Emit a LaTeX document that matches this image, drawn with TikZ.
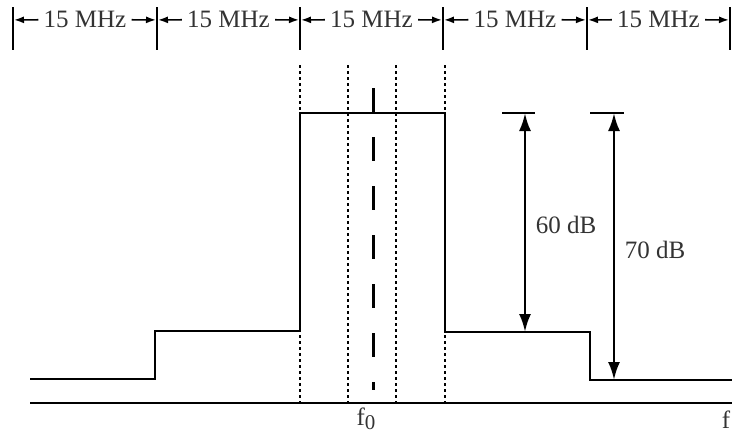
\documentclass[tikz,border=0pt]{standalone}
\usepackage{fontspec}
\setmainfont{Liberation Serif}
\usetikzlibrary{arrows.meta, positioning, calc}

\begin{document}
\begin{tikzpicture}[x=1pt, y=-1pt,
    lbl/.style={font=\fontsize{25}{30}\selectfont, text=black!80, inner sep=0pt},
    bar/.style={line width=2pt},
    tick/.style={-{Latex[length=10pt,width=7pt]}, line width=1.6pt, shorten <=5pt, shorten >=1pt},
    dim/.style={{Latex[length=18pt,width=12pt]}-{Latex[length=18pt,width=12pt]}, line width=2.6pt}]
    \useasboundingbox (0,0) rectangle (732,434);

    % Frequenzraster oben
    \foreach \x [count=\i from 0] in {13,157,300,443,587,730}
        \draw[bar] (\x,7) -- (\x,50) coordinate[pos=0.3] (t\i);
    \foreach \i [count=\j from 0] in {1,...,5} {
        \node[lbl, anchor=base] (m\i) at ($(t\j)!0.5!(t\i)+(0,8)$) {15 MHz};
        \draw[tick] (m\i.west) -- (t\j);
        \draw[tick] (m\i.east) -- (t\i);
    }

    % Achse
    \draw[line width=2pt] (30,403) -- (732,403);
    \node[lbl, anchor=base] (f0) at (366,425)
        {f\raisebox{-4pt}{\fontsize{21}{21}\selectfont 0}};
    \node[lbl, anchor=base] (f) at (726,428) {f};

    % Kanalraster
    \foreach \x in {300,348,396,445}
        \draw[line width=1.6pt, dash pattern=on 3pt off 3pt] (\x,65) -- (\x,403);
    \draw[line width=3pt, dash pattern=on 24pt off 25pt] (373,88) -- (373,390);

    % Spektrum
    \draw[line width=2pt, line join=miter]
        (30,379) -- (155,379) -- (155,331) -- (300,331) -- (300,113)
        -- (445,113) -- (445,332) -- (590,332) -- (590,380) -- (732,380);

    % Pegelabstand
    \draw[bar] (502,113) -- (535,113);
    \draw[bar] (590,113) -- (624,113);
    \coordinate (a1) at (525,113);
    \coordinate (a2) at (525,332);
    \coordinate (b1) at (614,113);
    \coordinate (b2) at (614,380);
    \draw[dim] (a1) -- (a2);
    \draw[dim] (b1) -- (b2);
    \node[lbl, anchor=base] (d60) at (566,233) {60 dB};
    \node[lbl, anchor=base] (d70) at (655,258) {70 dB};
\end{tikzpicture}
\end{document}
